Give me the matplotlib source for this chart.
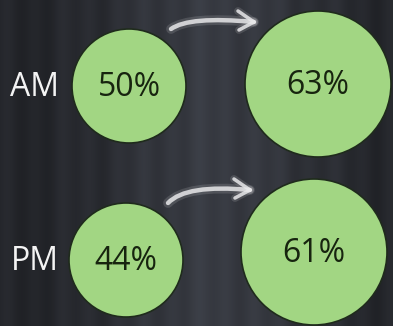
import matplotlib.pyplot as plt
import numpy as np
from matplotlib.patches import Circle, PathPatch
from matplotlib.path import Path

# share of each slot, before and after
slots = ['AM', 'PM']
before = [50, 44]
after = [63, 61]

GREEN = '#a2d683'
TEXT_DARK = '#17240f'
FONT = 'Open Sans'

fig = plt.figure(figsize=(3.93, 3.26), dpi=100)
ax = fig.add_axes([0, 0, 1, 1])
ax.set_xlim(0, 393)
ax.set_ylim(326, 0)
ax.axis('off')

# chalkboard backdrop: darker at the left, lighter smudge in the middle
xs = np.linspace(0, 1, 393)
shade = 0.14 + 0.09 * np.exp(-((xs - 0.55) / 0.3) ** 2)
streaks = 0.012 * np.sin(xs * 90) + 0.008 * np.sin(xs * 37 + 1.3)
col = shade + streaks
rgb = np.stack([col * 0.95, col * 1.0, col * 1.13], axis=-1)
bg = np.repeat(rgb[None, :, :], 326, axis=0)
ax.imshow(np.clip(bg, 0, 1), extent=(0, 393, 326, 0), aspect='auto', zorder=0)

small_y = [86, 260]
big_y = [84, 252]
small_x = [129, 126]
big_x = [318, 314]
small_r, big_r = 57, 73


def chalk_arrow(x0, y0, x1, y1):
    """Curved hand-drawn arrow from (x0, y0) to (x1, y1)."""
    mid = (x0 + 18, min(y0, y1) - 6)
    path = Path([(x0, y0), mid, (x1, y1)], [Path.MOVETO, Path.CURVE3, Path.CURVE3])
    for lw, a in [(7, 0.15), (3.2, 0.85)]:
        ax.add_patch(PathPatch(path, facecolor='none', edgecolor='#e8e8ea',
                               lw=lw, alpha=a, capstyle='round', zorder=3))
        for dx, dy in [(-16, -11), (-15, 8)]:
            ax.plot([x1 + dx, x1], [y1 + dy, y1], color='#e8e8ea', lw=lw * 0.8,
                    alpha=a, solid_capstyle='round', zorder=3)


for i, label in enumerate(slots):
    ax.text(35, small_y[i] + 1, label, color='#f4f4f4', fontsize=23, family=FONT,
            ha='center', va='center', zorder=4)
    marks = [(small_x[i], small_y[i], small_r, before[i]),
             (big_x[i], big_y[i], big_r, after[i])]
    for cx, cy, r, val in marks:
        ax.add_patch(Circle((cx, cy), r, facecolor=GREEN, edgecolor='#1f2b1c',
                            lw=1.2, zorder=2))
        ax.text(cx, cy + 1, f'{val}%', color=TEXT_DARK, fontsize=23, family=FONT,
                ha='center', va='center', zorder=4)
    chalk_arrow(small_x[i] + 42, small_y[i] - 57, big_x[i] - 64, big_y[i] - 62)

fig.savefig('out.png', dpi=100)
